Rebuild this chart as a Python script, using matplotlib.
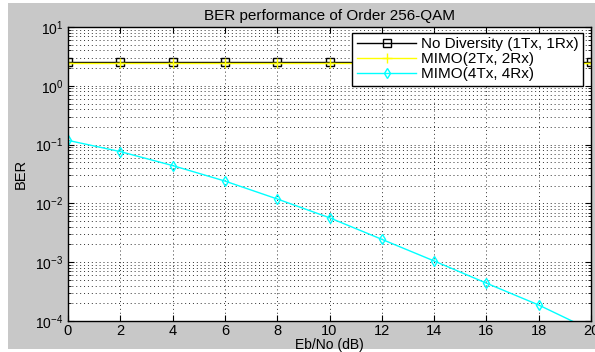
import numpy as np
import matplotlib
matplotlib.use("Agg")
import matplotlib.pyplot as plt
from matplotlib.patches import Rectangle
from matplotlib.ticker import LogLocator, FixedLocator

# ===============================
# Data
# ===============================
ebno_db = [0, 2, 4, 6, 8, 10, 12, 14, 16, 18, 20]
ber_siso = [2.5, 2.5, 2.5, 2.5, 2.5, 2.5, 2.5, 2.5, 2.5, 2.5, 2.5]
ber_mimo2 = [2.45, 2.45, 2.45, 2.45, 2.45, 2.45, 2.45, 2.45, 2.45, 2.45, 2.45]
ber_mimo4 = [0.118, 0.076, 0.044, 0.024, 0.0119, 0.0057, 0.00245,
             0.00105, 0.00044, 0.000187, 0.00007]
labels = ["No Diversity (1Tx, 1Rx)", "MIMO(2Tx, 2Rx)", "MIMO(4Tx, 4Rx)"]
x_ticks = [0, 2, 4, 6, 8, 10, 12, 14, 16, 18, 20]

plt.rcParams["font.family"] = ["Liberation Sans", "DejaVu Sans"]
plt.rcParams["mathtext.fontset"] = "custom"
plt.rcParams["mathtext.rm"] = "Liberation Sans"
plt.rcParams["mathtext.it"] = "Liberation Sans"
plt.rcParams["font.size"] = 10

W, H = 595, 352
fig = plt.figure(figsize=(W / 100, H / 100), dpi=100)
fig.patch.set_facecolor("white")

# grey MATLAB figure background (picture is cropped at the top / left)
bg = Rectangle((8 / W, (H - 349) / H), (W - 8) / W, (349 - 3) / H,
               transform=fig.transFigure, facecolor="#c8c8c8",
               edgecolor="none", zorder=-10)
fig.add_artist(bg)

ax = fig.add_axes([68 / W, (H - 321) / H, (591 - 68) / W, (321 - 27) / H])
ax.set_zorder(1)
ax.set_facecolor("white")

ax.plot(ebno_db, ber_siso, "k-s", mfc="none", ms=5.5, lw=1, label=labels[0])
ax.plot(ebno_db, ber_mimo2, "-+", color="#ffff00", ms=7, lw=1, label=labels[1])
ax.plot(ebno_db, ber_mimo4, "-d", color="#00ffff", mfc="none", ms=5.5, lw=1,
        label=labels[2])

ax.set_yscale("log")
ax.set_ylim(1e-4, 1e1)
ax.set_xlim(0, 20)
ax.xaxis.set_major_locator(FixedLocator(x_ticks))
ax.yaxis.set_major_locator(LogLocator(base=10, numticks=10))
ax.yaxis.set_minor_locator(LogLocator(base=10, subs=np.arange(2, 10), numticks=10))

dots = (0, (1, 3))
ax.grid(True, which="major", color="#303030", linestyle=dots, linewidth=0.7)
ax.grid(True, which="minor", axis="y", color="#303030", linestyle=dots, linewidth=0.7)
ax.tick_params(which="both", direction="in", top=True, right=True, colors="black")
ax.tick_params(axis="y", labelsize=10)
ax.tick_params(axis="x", labelsize=10.5, pad=2)
ax.tick_params(which="major", length=4)
ax.tick_params(which="minor", length=2)
for s in ax.spines.values():
    s.set_linewidth(1)

ax.set_title("BER performance of Order 256-QAM", fontsize=11, pad=5)
ax.set_xlabel("Eb/No (dB)", fontsize=10)
ax.xaxis.set_label_coords(0.5, -0.083)
ax.xaxis.label.set_va("center")
ax.set_ylabel("BER", fontsize=10.5, labelpad=5)

leg = ax.legend(loc="upper right", bbox_to_anchor=(0.985, 0.98), fancybox=False,
                edgecolor="black", framealpha=1, fontsize=11, handlelength=3.9,
                borderpad=0.3, labelspacing=0.05, handletextpad=0.3,
                borderaxespad=0)
leg.get_frame().set_linewidth(1)

fig.savefig("out.png", dpi=100)
